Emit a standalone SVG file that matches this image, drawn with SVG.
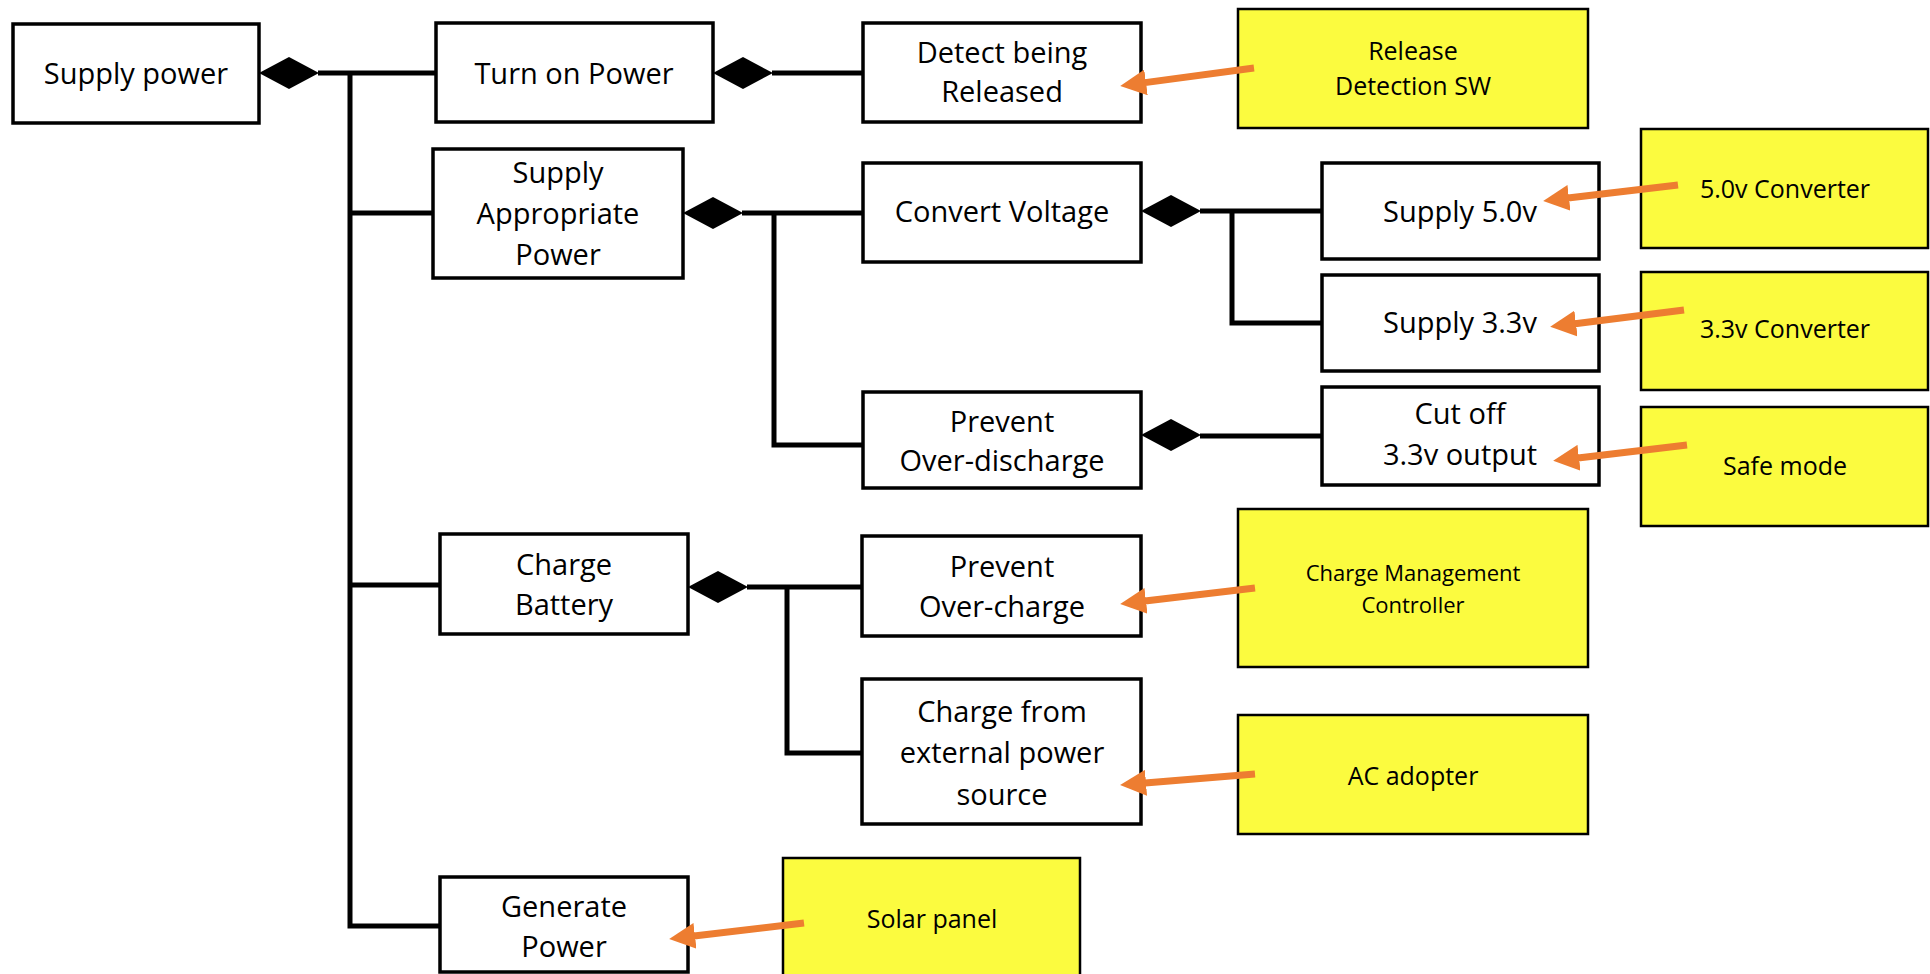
<svg xmlns="http://www.w3.org/2000/svg" width="1930" height="974" viewBox="0 0 1930 974">
<style>
.box{fill:#ffffff;stroke:#000000;stroke-width:3.5}
.ybox{fill:#FBFB3F;stroke:#000000;stroke-width:2.5}
.t{font-family:"Open Sans","Liberation Sans",sans-serif;font-size:29px;fill:#000000;text-anchor:middle}
.ty{font-family:"Open Sans","Liberation Sans",sans-serif;font-size:25px;fill:#000000;text-anchor:middle}
.ts{font-family:"Open Sans","Liberation Sans",sans-serif;font-size:22px;fill:#000000;text-anchor:middle}
.conn{fill:none;stroke:#000000;stroke-width:5;stroke-linejoin:miter;stroke-linecap:butt}
.dia{fill:#000000}
.arr{fill:none;stroke:#ED7D31;stroke-width:7}
</style>
<defs>
<marker id="ah" viewBox="0 -13 26 26" refX="1" refY="0" markerWidth="26" markerHeight="26" markerUnits="userSpaceOnUse" orient="auto">
<path d="M0,-13 L26,0 L0,13 Z" fill="#ED7D31"/>
</marker>
</defs>

<g id="connectors">
<path class="conn" d="M318,73 H436"/>
<path class="conn" d="M350,73 V926 H440"/>
<path class="conn" d="M350,213 H433"/>
<path class="conn" d="M350,585 H440"/>
<path class="conn" d="M772,73 H863"/>
<path class="conn" d="M742,213 H863"/>
<path class="conn" d="M774,213 V445 H863"/>
<path class="conn" d="M1200,211 H1322"/>
<path class="conn" d="M1232,211 V323 H1322"/>
<path class="conn" d="M1200,436 H1322"/>
<path class="conn" d="M747,587 H862"/>
<path class="conn" d="M787,587 V753 H862"/>
<polygon class="dia" points="259,73 289,57 319,73 289,89"/>
<polygon class="dia" points="713,73 743,57 773,73 743,89"/>
<polygon class="dia" points="683,213 713,197 743,213 713,229"/>
<polygon class="dia" points="1141,211 1171,195 1201,211 1171,227"/>
<polygon class="dia" points="1141,435 1171,419 1201,435 1171,451"/>
<polygon class="dia" points="688,587 718,571 748,587 718,603"/>
</g>

<g id="supply-power"><rect class="box" x="13" y="24" width="246" height="99"/><text class="t" x="136" y="84">Supply power</text></g>
<g id="turn-on-power"><rect class="box" x="436" y="23" width="277" height="99"/><text class="t" x="574" y="84">Turn on Power</text></g>
<g id="detect-released"><rect class="box" x="863" y="23" width="278" height="99"/><text class="t" x="1002" y="63">Detect being</text><text class="t" x="1002" y="102">Released</text></g>
<g id="supply-appropriate-power"><rect class="box" x="433" y="149" width="250" height="129"/><text class="t" x="558" y="183">Supply</text><text class="t" x="558" y="224">Appropriate</text><text class="t" x="558" y="265">Power</text></g>
<g id="convert-voltage"><rect class="box" x="863" y="163" width="278" height="99"/><text class="t" x="1002" y="222">Convert Voltage</text></g>
<g id="supply-5v"><rect class="box" x="1322" y="163" width="277" height="96"/><text class="t" x="1460" y="222">Supply 5.0v</text></g>
<g id="supply-33v"><rect class="box" x="1322" y="275" width="277" height="96"/><text class="t" x="1460" y="333">Supply 3.3v</text></g>
<g id="prevent-overdischarge"><rect class="box" x="863" y="392" width="278" height="96"/><text class="t" x="1002" y="432">Prevent</text><text class="t" x="1002" y="471">Over-discharge</text></g>
<g id="cut-off"><rect class="box" x="1322" y="387" width="277" height="98"/><text class="t" x="1460" y="424">Cut off</text><text class="t" x="1460" y="465">3.3v output</text></g>
<g id="charge-battery"><rect class="box" x="440" y="534" width="248" height="100"/><text class="t" x="564" y="575">Charge</text><text class="t" x="564" y="615">Battery</text></g>
<g id="prevent-overcharge"><rect class="box" x="862" y="536" width="279" height="100"/><text class="t" x="1002" y="577">Prevent</text><text class="t" x="1002" y="617">Over-charge</text></g>
<g id="charge-external"><rect class="box" x="862" y="679" width="279" height="145"/><text class="t" x="1002" y="722">Charge from</text><text class="t" x="1002" y="763">external power</text><text class="t" x="1002" y="805">source</text></g>
<g id="generate-power"><rect class="box" x="440" y="877" width="248" height="95"/><text class="t" x="564" y="917">Generate</text><text class="t" x="564" y="957">Power</text></g>

<g id="release-sw"><rect class="ybox" x="1238" y="9" width="350" height="119"/><text class="ty" x="1413" y="60">Release</text><text class="ty" x="1413" y="95">Detection SW</text></g>
<g id="conv-5v"><rect class="ybox" x="1641" y="129" width="287" height="119"/><text class="ty" x="1785" y="198">5.0v Converter</text></g>
<g id="conv-33v"><rect class="ybox" x="1641" y="272" width="287" height="118"/><text class="ty" x="1785" y="338">3.3v Converter</text></g>
<g id="safe-mode"><rect class="ybox" x="1641" y="407" width="287" height="119"/><text class="ty" x="1785" y="475">Safe mode</text></g>
<g id="charge-mgmt"><rect class="ybox" x="1238" y="509" width="350" height="158"/><text class="ts" x="1413" y="581">Charge Management</text><text class="ts" x="1413" y="613">Controller</text></g>
<g id="ac-adopter"><rect class="ybox" x="1238" y="715" width="350" height="119"/><text class="ty" x="1413" y="785">AC adopter</text></g>
<g id="solar-panel"><rect class="ybox" x="783" y="858" width="297" height="130"/><text class="ty" x="932" y="928">Solar panel</text></g>

<g id="arrows">
<line class="arr" x1="1254" y1="68" x2="1145" y2="82.6" marker-end="url(#ah)"/>
<line class="arr" x1="1678" y1="185" x2="1568" y2="198" marker-end="url(#ah)"/>
<line class="arr" x1="1684" y1="310" x2="1575" y2="323.7" marker-end="url(#ah)"/>
<line class="arr" x1="1687" y1="445" x2="1578" y2="457.9" marker-end="url(#ah)"/>
<line class="arr" x1="1255" y1="588" x2="1145" y2="601" marker-end="url(#ah)"/>
<line class="arr" x1="1255" y1="774" x2="1145" y2="782.9" marker-end="url(#ah)"/>
<line class="arr" x1="804" y1="923" x2="694" y2="936" marker-end="url(#ah)"/>
</g>
</svg>
